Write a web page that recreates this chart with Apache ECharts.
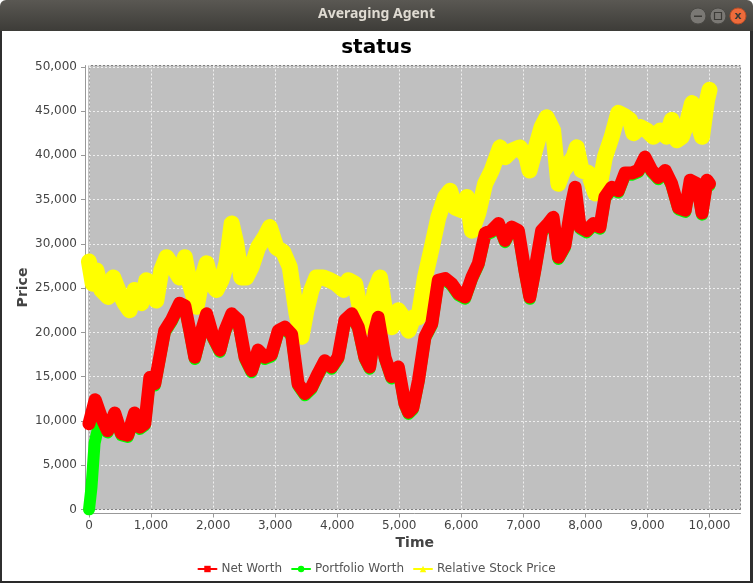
<!DOCTYPE html>
<html>
<head>
<meta charset="utf-8">
<script src="https://cdn.jsdelivr.net/npm/echarts@6/dist/echarts.min.js"></script>
<style>
html,body{margin:0;padding:0;background:#fff;}
#chart{width:753px;height:583px;}
</style>
</head>
<body>
<div id="chart"></div>
<script>
const windowTitle = 'Averaging Agent';
const chartTitle = 'status';
const xAxisName = 'Time';
const yAxisName = 'Price';
const seriesNames = ['Net Worth', 'Portfolio Worth', 'Relative Stock Price'];

const netWorth = [[0,9700],[100,12400],[200,10400],[300,8900],[415,10900],[520,8600],[625,8400],[735,10900],[820,9300],[900,9700],[980,14900],[1060,14200],[1140,17200],[1220,20200],[1330,21400],[1460,23300],[1545,23000],[1625,20200],[1705,17200],[1815,20200],[1895,22100],[2000,19500],[2110,18000],[2190,20200],[2300,22100],[2405,21400],[2515,17200],[2620,15700],[2725,18000],[2835,17200],[2940,17500],[3050,20200],[3155,20600],[3265,19800],[3370,14200],[3480,13100],[3585,13800],[3695,15400],[3800,16800],[3910,16100],[4015,17200],[4125,21400],[4235,22100],[4340,20600],[4445,17200],[4525,16100],[4605,20200],[4660,21700],[4770,17200],[4875,15000],[4985,16100],[5090,12000],[5150,11000],[5220,11500],[5310,14600],[5415,19500],[5525,21000],[5630,25900],[5740,26100],[5845,25500],[5955,24400],[6060,24000],[6170,26200],[6275,27800],[6385,31200],[6490,31500],[6600,32300],[6705,30400],[6810,31900],[6920,31500],[7025,27000],[7105,24000],[7185,27000],[7295,31500],[7400,32300],[7480,33000],[7565,28500],[7670,29800],[7780,34600],[7835,36400],[7915,31900],[8020,31500],[8130,32300],[8235,31900],[8315,35300],[8425,36400],[8530,36000],[8640,38000],[8745,38000],[8855,38300],[8960,39800],[9070,38300],[9175,37500],[9285,38300],[9390,36800],[9500,34100],[9610,33800],[9690,37200],[9800,36800],[9880,33500],[9960,37200],[10000,36800]];

const portfolioWorth = [[0,0],[40,2500],[90,7500],[150,9300],[200,10200],[300,8700],[415,10700],[520,8400],[625,8200],[735,10700],[820,9100],[900,9500],[980,14700],[1060,14000],[1140,17000],[1220,20000],[1330,21200],[1460,23100],[1545,22800],[1625,20000],[1705,17000],[1815,20000],[1895,21900],[2000,19300],[2110,17800],[2190,20000],[2300,21900],[2405,21200],[2515,17000],[2620,15500],[2725,17800],[2835,17000],[2940,17300],[3050,20000],[3155,20400],[3265,19600],[3370,14000],[3480,12900],[3585,13600],[3695,15200],[3800,16600],[3910,15900],[4015,17000],[4125,21200],[4235,21900],[4340,20400],[4445,17000],[4525,15900],[4605,20000],[4660,21500],[4770,17000],[4875,14800],[4985,15900],[5090,11800],[5150,10800],[5220,11300],[5310,14400],[5415,19300],[5525,20800],[5630,25700],[5740,25900],[5845,25300],[5955,24200],[6060,23800],[6170,26000],[6275,27600],[6385,31000],[6490,31300],[6600,32100],[6705,30200],[6810,31700],[6920,31300],[7025,26800],[7105,23800],[7185,26800],[7295,31300],[7400,32100],[7480,32800],[7565,28300],[7670,29600],[7780,34400],[7835,36200],[7915,31700],[8020,31300],[8130,32100],[8235,31700],[8315,35100],[8425,36200],[8530,35800],[8640,37800],[8745,37800],[8855,38100],[8960,39600],[9070,38100],[9175,37300],[9285,38100],[9390,36600],[9500,33900],[9610,33600],[9690,37000],[9800,36600],[9880,33300],[9960,37000],[10000,36600]];

const relativeStockPrice = [[0,28000],[60,25500],[120,27000],[200,24800],[310,24000],[390,26200],[470,24800],[575,23300],[655,22500],[735,24800],[845,23300],[925,25900],[1005,25500],[1085,23600],[1165,27000],[1250,28500],[1355,27400],[1460,26200],[1545,28500],[1625,25500],[1735,22900],[1815,25900],[1895,27800],[1975,25500],[2055,24800],[2135,25900],[2215,27800],[2300,32300],[2375,30000],[2455,26200],[2535,26200],[2620,27400],[2725,29600],[2835,30800],[2915,31900],[3020,29600],[3130,29100],[3235,27400],[3345,22100],[3425,19500],[3505,22500],[3585,24800],[3665,26200],[3775,26200],[3885,25900],[3990,25500],[4100,24800],[4180,25900],[4290,25500],[4395,21700],[4505,20600],[4610,24800],[4690,26200],[4770,22500],[4880,20600],[4985,22500],[5065,21700],[5150,20200],[5230,21700],[5310,21700],[5415,26200],[5525,29600],[5630,33000],[5740,35300],[5820,36000],[5900,34100],[6010,33800],[6090,35300],[6170,31500],[6275,33500],[6385,36800],[6490,38300],[6625,40900],[6705,39800],[6810,40500],[6945,40900],[7050,39800],[7100,38300],[7185,40500],[7295,43200],[7375,44300],[7480,42800],[7565,36800],[7645,38300],[7725,39000],[7810,39800],[7860,40900],[7940,38300],[8050,38000],[8160,35700],[8240,37000],[8315,39800],[8425,42100],[8530,44800],[8640,44400],[8720,44000],[8775,42500],[8885,43200],[8990,42800],[9095,42100],[9205,42800],[9310,42100],[9390,44000],[9475,41700],[9555,42100],[9635,43600],[9720,45900],[9800,44000],[9880,42100],[9960,46200],[10000,47400]];

const xTickInterval = 1000;
const yTickInterval = 5000;

const fmt = v => Math.round(v).toLocaleString('en-US');
const font = 'DejaVu Sans';

const chart = echarts.init(document.getElementById('chart'), null, {renderer: 'canvas'});
chart.setOption({
  backgroundColor: '#ffffff',
  animation: false,
  textStyle: {fontFamily: font},
  title: {
    text: chartTitle,
    left: 'center',
    top: 33,
    textStyle: {fontFamily: font, fontSize: 20, fontWeight: 'bold', color: '#000'}
  },
  graphic: [
    {type: 'rect', shape: {x: 0, y: 0, width: 753, height: 31, r: [6, 6, 0, 0]},
     style: {fill: new echarts.graphic.LinearGradient(0, 0, 0, 1, [{offset: 0, color: '#5a5853'}, {offset: 1, color: '#3d3c38'}])}},
    {type: 'rect', shape: {x: 0, y: 31, width: 2, height: 552}, style: {fill: '#2f2f2f'}},
    {type: 'rect', shape: {x: 750, y: 31, width: 3, height: 552}, style: {fill: '#2f2f2f'}},
    {type: 'rect', shape: {x: 0, y: 581, width: 753, height: 2}, style: {fill: '#2a2a2a'}},
    {type: 'text', left: 'center', top: 7,
     style: {text: windowTitle, fill: '#dfdbd2', font: 'bold 14px "Noto Sans"'}},
    {type: 'circle', shape: {cx: 698, cy: 16, r: 8}, style: {fill: '#7a7874', stroke: '#4a4945', lineWidth: 1}},
    {type: 'rect', shape: {x: 694, y: 15.5, width: 8, height: 1.5}, style: {fill: '#3c3b37'}},
    {type: 'circle', shape: {cx: 718, cy: 16, r: 8}, style: {fill: '#7a7874', stroke: '#4a4945', lineWidth: 1}},
    {type: 'rect', shape: {x: 714.5, y: 12.5, width: 7, height: 7}, style: {fill: 'none', stroke: '#3c3b37', lineWidth: 1.2}},
    {type: 'circle', shape: {cx: 738, cy: 16, r: 8}, style: {fill: '#ee6b3b', stroke: '#b94d26', lineWidth: 1}},
    {type: 'text', x: 738, y: 16, style: {text: 'x', fill: '#3c3b37', font: 'bold 11px "DejaVu Sans"', align: 'center', verticalAlign: 'middle'}}
  ],
  grid: {
    left: 89, right: 12.5, top: 65.5, bottom: 73.5,
    show: true,
    backgroundColor: '#c0c0c0',
    borderColor: '#808080',
    borderWidth: 1
  },
  legend: {
    bottom: 3,
    left: 'center',
    itemWidth: 18,
    itemHeight: 8,
    itemGap: 9,
    textStyle: {fontFamily: font, fontSize: 12, color: '#555'},
    lineStyle: {width: 2},
    data: [
      {name: seriesNames[0]},
      {name: seriesNames[1]},
      {name: seriesNames[2]}
    ]
  },
  xAxis: {
    type: 'value',
    min: 0,
    max: 10500,
    interval: xTickInterval,
    offset: 4,
    name: xAxisName,
    nameLocation: 'middle',
    nameGap: 23,
    nameMoveOverlap: false,
    nameTextStyle: {fontFamily: font, fontSize: 14, fontWeight: 'bold', color: '#444'},
    axisLine: {show: true, onZero: false, lineStyle: {color: '#999'}},
    axisTick: {show: true, length: 4, lineStyle: {color: '#999'}},
    axisLabel: {margin: 6, fontSize: 12, color: '#444', fontFamily: font, showMaxLabel: false, formatter: fmt},
    splitLine: {show: true, lineStyle: {color: 'rgba(255,255,255,0.75)', type: [2, 2], width: 1}}
  },
  yAxis: {
    type: 'value',
    min: 0,
    max: 50150,
    interval: yTickInterval,
    offset: 4,
    name: yAxisName,
    nameLocation: 'middle',
    nameGap: 55,
    nameMoveOverlap: false,
    nameTextStyle: {fontFamily: font, fontSize: 14, fontWeight: 'bold', color: '#444'},
    axisLine: {show: true, onZero: false, lineStyle: {color: '#999'}},
    axisTick: {show: true, length: 4, lineStyle: {color: '#999'}},
    axisLabel: {margin: 8, fontSize: 12, color: '#444', fontFamily: font, showMaxLabel: false, formatter: fmt},
    splitLine: {show: true, lineStyle: {color: 'rgba(255,255,255,0.75)', type: [2, 2], width: 1}}
  },
  series: [
    {
      name: seriesNames[2], type: 'line', data: relativeStockPrice,
      symbol: 'triangle', symbolSize: 9, showSymbol: false, z: 1,
      itemStyle: {color: '#ffff00'},
      lineStyle: {color: '#ffff00', width: 16, join: 'round', cap: 'round'}
    },
    {
      name: seriesNames[1], type: 'line', data: portfolioWorth,
      symbol: 'circle', symbolSize: 8, showSymbol: false, z: 2,
      itemStyle: {color: '#00ff00'},
      lineStyle: {color: '#00ff00', width: 12, join: 'round', cap: 'round'}
    },
    {
      name: seriesNames[0], type: 'line', data: netWorth,
      symbol: 'rect', symbolSize: 8, showSymbol: false, z: 3,
      itemStyle: {color: '#ff0000'},
      lineStyle: {color: '#ff0000', width: 13, join: 'round', cap: 'round'}
    }
  ]
});
</script>
</body>
</html>
